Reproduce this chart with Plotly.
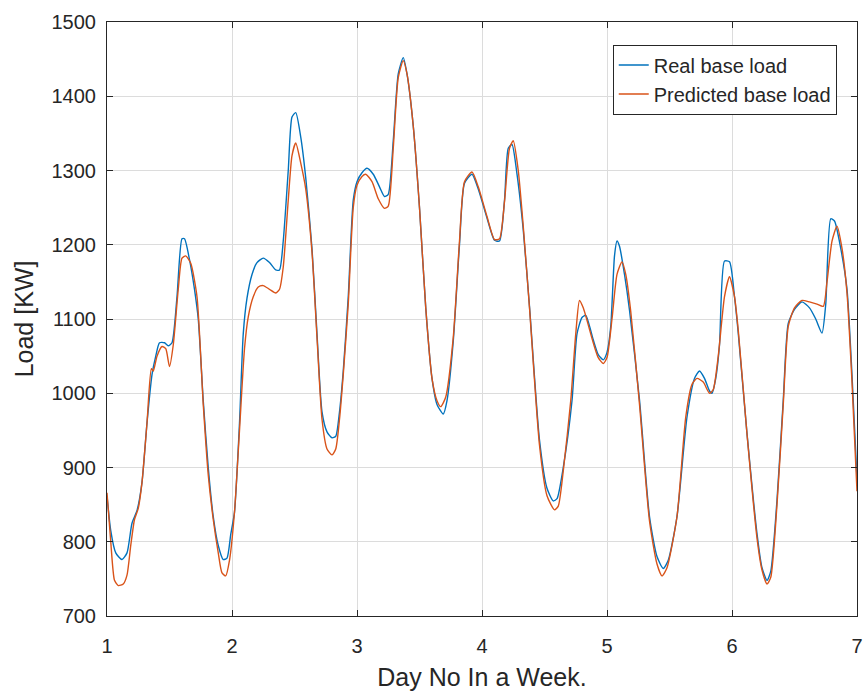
import plotly.graph_objects as go

# Real base load (day, kW)
real_day = [1.0, 1.03, 1.07, 1.12, 1.16, 1.2, 1.24, 1.28, 1.32, 1.36, 1.39, 1.42, 1.46, 1.49, 1.52, 1.56, 1.6, 1.62,
            1.66, 1.7, 1.73, 1.77, 1.81, 1.85, 1.89, 1.93, 1.96, 1.99, 2.02, 2.06, 2.09, 2.12, 2.16, 2.2, 2.25, 2.3,
            2.35, 2.38, 2.41, 2.45, 2.48, 2.51, 2.55, 2.59, 2.64, 2.68, 2.72, 2.76, 2.8, 2.83, 2.86, 2.89, 2.93, 2.97,
            3.0, 3.04, 3.08, 3.13, 3.18, 3.22, 3.25, 3.29, 3.33, 3.37, 3.4, 3.45, 3.5, 3.55, 3.6, 3.64, 3.69, 3.72,
            3.77, 3.82, 3.86, 3.92, 3.97, 4.04, 4.1, 4.14, 4.18, 4.21, 4.24, 4.28, 4.33, 4.38, 4.46, 4.52, 4.57, 4.6,
            4.65, 4.72, 4.76, 4.8, 4.83, 4.89, 4.93, 4.97, 5.0, 5.03, 5.06, 5.08, 5.1, 5.14, 5.18, 5.26, 5.34, 5.4,
            5.45, 5.49, 5.56, 5.64, 5.7, 5.74, 5.78, 5.82, 5.84, 5.87, 5.9, 5.94, 5.98, 6.02, 6.05, 6.12, 6.2, 6.24,
            6.28, 6.31, 6.36, 6.41, 6.45, 6.5, 6.56, 6.62, 6.67, 6.72, 6.75, 6.79, 6.82, 6.87, 6.92, 6.96, 7.0]
real_load = [862, 815, 785, 776, 785, 825, 842, 880, 960, 1025, 1050, 1068, 1068, 1064, 1068, 1130, 1208, 1208,
             1180, 1140, 1100, 990, 900, 834, 795, 776, 778, 810, 840, 960, 1080, 1128, 1160, 1176, 1182, 1176,
             1166, 1166, 1205, 1300, 1372, 1378, 1345, 1290, 1195, 1080, 975, 948, 940, 942, 975, 1030, 1130, 1260,
             1285, 1297, 1303, 1295, 1278, 1265, 1268, 1340, 1430, 1452, 1430, 1360, 1250, 1115, 1020, 985, 972, 990,
             1070, 1200, 1283, 1295, 1275, 1236, 1206, 1205, 1260, 1330, 1335, 1295, 1220, 1117, 937, 872, 855, 858,
             900, 990, 1080, 1102, 1105, 1072, 1052, 1045, 1055, 1090, 1185, 1205, 1198, 1160, 1112, 991, 834, 780,
             764, 775, 834, 968, 1020, 1030, 1020, 1003, 1000, 1020, 1065, 1178, 1177, 1130, 1081, 946, 811, 765,
             748, 760, 856, 991, 1094, 1113, 1123, 1115, 1100, 1081, 1120, 1235, 1232, 1195, 1140, 1025, 885]

# Predicted base load (day, kW)
pred_day = [1.0, 1.03, 1.06, 1.09, 1.13, 1.16, 1.19, 1.22, 1.25, 1.28, 1.32, 1.355, 1.37, 1.4, 1.44, 1.47, 1.5, 1.53,
            1.57, 1.6, 1.63, 1.67, 1.72, 1.77, 1.81, 1.85, 1.89, 1.92, 1.95, 1.98, 2.02, 2.06, 2.1, 2.13, 2.17, 2.21,
            2.25, 2.3, 2.35, 2.38, 2.41, 2.45, 2.48, 2.51, 2.55, 2.59, 2.64, 2.68, 2.72, 2.76, 2.8, 2.83, 2.86, 2.89,
            2.93, 2.97, 3.0, 3.04, 3.07, 3.12, 3.17, 3.22, 3.25, 3.29, 3.33, 3.37, 3.4, 3.45, 3.5, 3.55, 3.6, 3.64,
            3.67, 3.71, 3.77, 3.82, 3.86, 3.92, 3.97, 4.04, 4.1, 4.14, 4.18, 4.22, 4.25, 4.29, 4.33, 4.38, 4.46, 4.52,
            4.58, 4.61, 4.65, 4.71, 4.75, 4.78, 4.81, 4.89, 4.93, 4.97, 5.0, 5.04, 5.08, 5.12, 5.15, 5.19, 5.26, 5.34,
            5.4, 5.44, 5.48, 5.56, 5.63, 5.68, 5.72, 5.77, 5.82, 5.85, 5.89, 5.94, 5.98, 6.02, 6.05, 6.12, 6.2, 6.24,
            6.28, 6.31, 6.36, 6.41, 6.45, 6.5, 6.56, 6.62, 6.68, 6.73, 6.76, 6.8, 6.84, 6.88, 6.92, 6.96, 7.0]
pred_load = [866, 800, 748, 741, 743, 755, 795, 830, 845, 880, 960, 1033, 1030, 1050, 1063, 1060, 1036, 1065,
             1140, 1182, 1185, 1175, 1130, 985, 890, 830, 785, 758, 754, 775, 840, 950, 1060, 1103, 1130, 1143,
             1145, 1140, 1135, 1140, 1170, 1260, 1320, 1337, 1310, 1275, 1190, 1075, 965, 925, 917, 925, 965, 1025,
             1120, 1250, 1280, 1292, 1295, 1285, 1262, 1249, 1252, 1330, 1425, 1448, 1430, 1360, 1250, 1115, 1020, 990,
             982, 995, 1075, 1205, 1285, 1298, 1278, 1238, 1207, 1208, 1258, 1330, 1340, 1300, 1225, 1115, 930, 862,
             843, 848, 895, 990, 1080, 1125, 1115, 1068, 1048, 1040, 1048, 1100, 1160, 1177, 1160, 1110, 985, 828,
             770, 754, 765, 834, 968, 1012, 1020, 1015, 1000, 1005, 1050, 1130, 1157, 1130, 1085, 945, 805, 762,
             743, 752, 850, 985, 1090, 1115, 1125, 1123, 1120, 1117, 1150, 1205, 1225, 1195, 1135, 1015, 868]

x_ticks = [1, 2, 3, 4, 5, 6, 7]
y_ticks = [700, 800, 900, 1000, 1100, 1200, 1300, 1400, 1500]

font_family = "Liberation Sans, Arial, sans-serif"
text_color = "#262626"

fig = go.Figure()
fig.add_trace(go.Scatter(x=real_day, y=real_load, mode="lines", name="Real base load",
                         line=dict(color="#0072BD", width=1.4, shape="spline", smoothing=0.6)))
fig.add_trace(go.Scatter(x=pred_day, y=pred_load, mode="lines", name="Predicted base load",
                         line=dict(color="#D95319", width=1.4, shape="spline", smoothing=0.6)))

axis_common = dict(showline=True, linecolor=text_color, linewidth=1, mirror="ticks",
                   ticks="inside", ticklen=6, tickcolor=text_color,
                   showgrid=True, gridcolor="#dcdcdc", gridwidth=1, zeroline=False,
                   automargin=False,
                   tickfont=dict(size=20, color=text_color, family=font_family))

fig.update_xaxes(range=[1, 7], tickvals=x_ticks, ticklabelstandoff=12,
                 title=dict(text="Day No In a Week.", font=dict(size=25, color=text_color, family=font_family),
                            standoff=12),
                 **axis_common)
fig.update_yaxes(range=[700, 1500], tickvals=y_ticks, ticklabelstandoff=6,
                 title=dict(text="Load [KW]", font=dict(size=25, color=text_color, family=font_family),
                            standoff=10),
                 **axis_common)

fig.update_layout(
    width=867, height=693,
    margin=dict(l=107, r=10, t=22, b=77),
    paper_bgcolor="white", plot_bgcolor="white",
    font=dict(family=font_family, color=text_color),
    legend=dict(x=0.973, y=0.962, xanchor="right", yanchor="top",
                bgcolor="white", bordercolor=text_color, borderwidth=1,
                font=dict(size=20, color=text_color, family=font_family),
                tracegroupgap=0),
    showlegend=True,
)

fig.write_html("out.html")
